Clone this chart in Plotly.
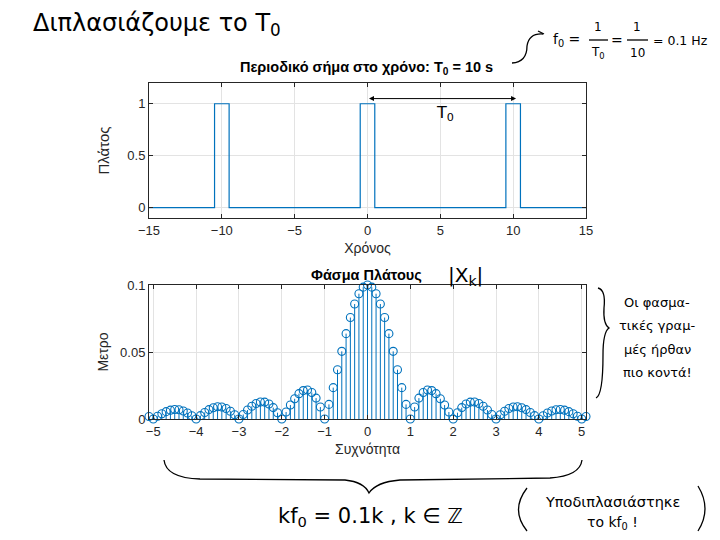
import plotly.graph_objects as go

# ---------------- data ----------------
# time-domain periodic pulse train (T0 = 10 s, pulse width 1 s)
time_points = [-15, -10.5, -9.5, -0.5, 0.5, 9.5, 10.5, 15]
amplitude = [0, 1, 0, 1, 0, 1, 0, 0]

# spectrum lines (kf0, k = -51..51, f0 = 0.1 Hz)
freqs = [round(k * 0.1, 1) for k in range(-51, 52)]
magnitude = [
    0.0019,
    0.0000, 0.0020, 0.0039, 0.0055, 0.0066, 0.0071, 0.0069, 0.0060, 0.0045, 0.0024,
    0.0000, 0.0025, 0.0049, 0.0070, 0.0084, 0.0091, 0.0089, 0.0078, 0.0058, 0.0032,
    0.0000, 0.0034, 0.0067, 0.0095, 0.0116, 0.0127, 0.0126, 0.0112, 0.0085, 0.0047,
    0.0000, 0.0052, 0.0104, 0.0151, 0.0189, 0.0212, 0.0216, 0.0198, 0.0156, 0.0089,
    0.0000, 0.0109, 0.0234, 0.0368, 0.0505, 0.0637, 0.0757, 0.0858, 0.0935, 0.0984,
    0.1000,
    0.0984, 0.0935, 0.0858, 0.0757, 0.0637, 0.0505, 0.0368, 0.0234, 0.0109, 0.0000,
    0.0089, 0.0156, 0.0198, 0.0216, 0.0212, 0.0189, 0.0151, 0.0104, 0.0052, 0.0000,
    0.0047, 0.0085, 0.0112, 0.0126, 0.0127, 0.0116, 0.0095, 0.0067, 0.0034, 0.0000,
    0.0032, 0.0058, 0.0078, 0.0089, 0.0091, 0.0084, 0.0070, 0.0049, 0.0025, 0.0000,
    0.0024, 0.0045, 0.0060, 0.0069, 0.0071, 0.0066, 0.0055, 0.0039, 0.0020, 0.0000,
    0.0019,
]

top_xticks = [-15, -10, -5, 0, 5, 10, 15]
top_yticks = [0, 0.5, 1]
bot_xticks = [-5, -4, -3, -2, -1, 0, 1, 2, 3, 4, 5]
bot_yticks = [0, 0.05, 0.1]

# ---------------- layout geometry (page body has an 8px margin) ----------------
OFF = 8
W, H = 704, 524
ML, MR, MT, MB = 149 - OFF, W - (586 - OFF), 83 - OFF, H - (419 - OFF)
PW, PH = W - ML - MR, H - MT - MB


def px(x, y):
    """screen pixel -> paper coords"""
    return (x - OFF - ML) / PW, (H - MB - (y - OFF)) / PH


def path(points):
    s = ""
    for cmd, pts in points:
        s += cmd
        s += " ".join("%.5f,%.5f" % px(x, y) for x, y in pts) + " "
    return s.strip()


BLUE = "#0072BD"
AXC = "#262626"
GRID = "#e3e3e3"
FONT = "Liberation Sans, Arial, sans-serif"

fig = go.Figure()

fig.add_trace(go.Scatter(
    x=time_points, y=amplitude, mode="lines", line=dict(color=BLUE, width=1.2, shape="hv"),
    xaxis="x", yaxis="y", showlegend=False, hoverinfo="skip"))

stem_x, stem_y = [], []
for f, m in zip(freqs, magnitude):
    stem_x += [f, f, None]
    stem_y += [0, m, None]
fig.add_trace(go.Scatter(
    x=stem_x, y=stem_y, mode="lines", line=dict(color=BLUE, width=1),
    xaxis="x2", yaxis="y2", showlegend=False, hoverinfo="skip", cliponaxis=False))
fig.add_trace(go.Scatter(
    x=freqs, y=magnitude, mode="markers",
    marker=dict(symbol="circle-open", size=8, color=BLUE, line=dict(width=1.1)),
    xaxis="x2", yaxis="y2", showlegend=False, cliponaxis=False))

axis_common = dict(
    showline=True, linecolor=AXC, linewidth=1, mirror="allticks", ticks="inside",
    ticklen=4, tickcolor=AXC, showgrid=True, gridcolor=GRID, zeroline=False,
    tickfont=dict(family=FONT, size=13, color=AXC), automargin=False,
)

top_bottom = (419 - 218) / PH
bot_top = (419 - 285) / PH

fig.update_layout(
    width=W, height=H, margin=dict(l=ML, r=MR, t=MT, b=MB),
    plot_bgcolor="white", paper_bgcolor="white",
    font=dict(family=FONT, color=AXC),
    xaxis=dict(axis_common, domain=[0, 1], anchor="y", range=[-15, 15], tickvals=top_xticks,
               title=dict(text="Χρόνος", font=dict(size=14, family=FONT, color=AXC), standoff=6)),
    yaxis=dict(axis_common, domain=[top_bottom, 1], anchor="x", range=[-0.1, 1.2], tickvals=top_yticks,
               ticktext=["0", "0.5", "1"],
               title=dict(text="Πλάτος", font=dict(size=15, family=FONT, color=AXC), standoff=14)),
    xaxis2=dict(axis_common, domain=[0, 1], anchor="y2", range=[-5.1, 5.1], tickvals=bot_xticks,
                title=dict(text="Συχνότητα", font=dict(size=14, family=FONT, color=AXC), standoff=6)),
    yaxis2=dict(axis_common, domain=[0, bot_top], anchor="x2", range=[0, 0.1], tickvals=bot_yticks,
                ticktext=["0", "0.05", "0.1"],
                title=dict(text="Μετρο", font=dict(size=14, family=FONT, color=AXC), standoff=8)),
)

ann = []


def note(xs, ys, text, size, anchor="center", font=None):
    x, y = px(xs, ys)
    f = dict(family="DejaVu Sans, sans-serif", color="black", size=size)
    if font:
        f.update(font)
    ann.append(dict(x=x, y=y, xref="paper", yref="paper", showarrow=False, xanchor=anchor,
                    yanchor="middle", text=text, font=f))


# axes titles
note(366, 68, "<b>Περιοδικό σήμα στο χρόνο: T<sub>0</sub> = 10 s</b>", 14.5,
     font=dict(family=FONT))
note(366, 275, "<b>Φάσμα Πλάτους</b>", 14.5, font=dict(family=FONT))

# handwritten notes
note(31, 25, "Διπλασιάζουμε το T<sub>0</sub>", 24, anchor="left")
# f0 = 1/T0 = 1/10 = 0.1 Hz
note(551, 40, "f<sub>0</sub> =", 14, anchor="left")
note(598, 27, "1", 12)
note(598, 53, "T<sub>0</sub>", 12)
note(617, 40, "=", 14)
note(637, 27, "1", 12)
note(637, 53, "10", 12)
note(651, 40, "= 0.1 Hz", 12.5, anchor="left")
note(465, 276, "|X<sub>k</sub>|", 20)
for i, line in enumerate(["Οι φασμα-", "τικές γραμ-", "μές ήρθαν", "πιο κοντά!"]):
    note(657, 302 + i * 23.5, line, 13)
note(370, 517, "kf<sub>0</sub> = 0.1k , k ∈ ℤ", 21)
note(612, 502, "Υποδιπλασιάστηκε", 14.5)
note(612, 523, "το kf<sub>0</sub> !", 14)

# T0 double arrow in the top plot
ann.append(dict(x=10.2, y=1.05, ax=0, ay=1.05, xref="x", yref="y", axref="x", ayref="y",
                showarrow=True, arrowside="end+start", arrowhead=2, arrowsize=1, arrowwidth=1,
                arrowcolor="black", text=""))
ann.append(dict(x=5.3, y=0.91, xref="x", yref="y", showarrow=False,
                text="T<sub>0</sub>", font=dict(family="DejaVu Sans, sans-serif", size=16, color="black")))
fig.update_layout(annotations=ann)

shapes = []
LINE = dict(color="black", width=1.3)
# curly arrow from title to formula
shapes.append(dict(type="path", xref="paper", yref="paper",
                   path=path([("M", [(512, 63)]), ("Q", [(527, 62), (527, 46)]),
                              ("Q", [(529, 33), (543, 34)])]), line=LINE))
shapes.append(dict(type="path", xref="paper", yref="paper",
                   path=path([("M", [(538, 31)]), ("L", [(544, 34), (539, 38)])]), line=LINE))
# fraction bars
for x0, x1 in [(589, 608), (627, 648)]:
    shapes.append(dict(type="path", xref="paper", yref="paper",
                       path=path([("M", [(x0, 40)]), ("L", [(x1, 40)])]), line=LINE))
# right brace
shapes.append(dict(type="path", xref="paper", yref="paper",
                   path=path([("M", [(598, 288)]), ("Q", [(606, 290), (604, 308)]),
                              ("Q", [(603, 324), (609, 328)]), ("Q", [(603, 332), (603, 355)]),
                              ("Q", [(603, 395), (596, 398)])]), line=LINE))
# bottom brace
shapes.append(dict(type="path", xref="paper", yref="paper",
                   path=path([("M", [(164, 460)]), ("Q", [(166, 478), (200, 479)]),
                              ("L", [(345, 480)]), ("Q", [(364, 482), (369, 493)]),
                              ("Q", [(376, 482), (400, 480)]), ("L", [(550, 478)]),
                              ("Q", [(580, 476), (582, 460)])]), line=LINE))
# parentheses
shapes.append(dict(type="path", xref="paper", yref="paper",
                   path=path([("M", [(527, 488)]), ("Q", [(510, 510), (527, 531)])]), line=LINE))
shapes.append(dict(type="path", xref="paper", yref="paper",
                   path=path([("M", [(698, 486)]), ("Q", [(712, 509), (698, 531)])]), line=LINE))
fig.update_layout(shapes=shapes)

fig.write_html("out.html")
